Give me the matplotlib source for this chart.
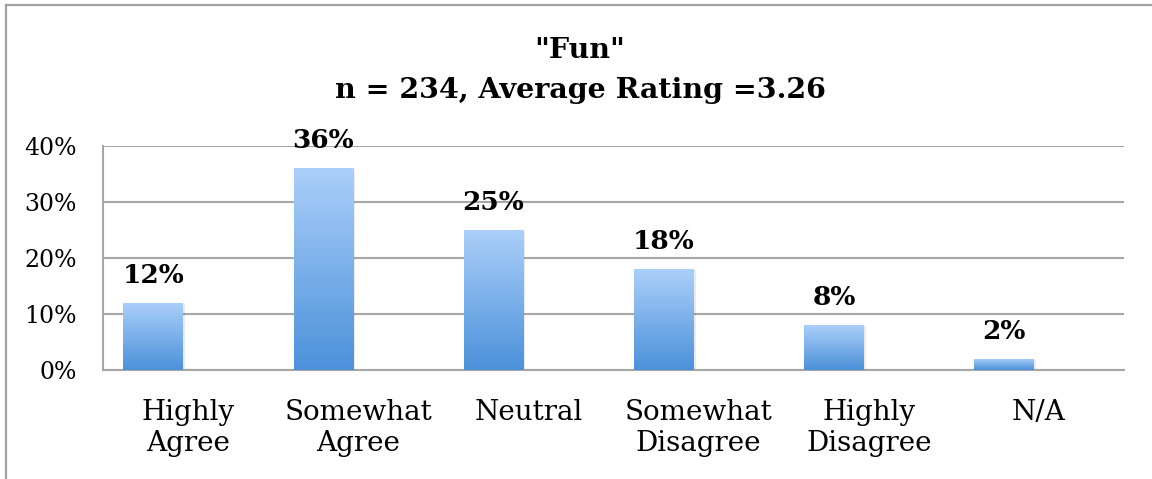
import numpy as np
import matplotlib
matplotlib.use("Agg")
import matplotlib.pyplot as plt
from matplotlib.lines import Line2D
from matplotlib.colors import LinearSegmentedColormap

categories = ["Highly\nAgree", "Somewhat\nAgree", "Neutral", "Somewhat\nDisagree", "Highly\nDisagree", "N/A"]
values = [0.12, 0.36, 0.25, 0.18, 0.08, 0.02]
value_labels = ["12%", "36%", "25%", "18%", "8%", "2%"]
yticks = [0, 0.1, 0.2, 0.3, 0.4]
ytick_labels = ["0%", "10%", "20%", "30%", "40%"]
title_lines = ['"Fun"', "n = 234, Average Rating =3.26"]

W, H = 1152, 479
fig = plt.figure(figsize=(W / 100, H / 100), dpi=100)
ax = fig.add_axes([103 / W, 1 - 370 / H, (1124 - 103) / W, (370 - 146) / H])

serif = "DejaVu Serif"
grid_col = "#a6a6a6"

x = np.arange(len(categories))
offset = -0.205
bars = ax.bar(x + offset, values, width=0.35, color="none", edgecolor="none", zorder=3)

cmap = LinearSegmentedColormap.from_list("g", ["#4b91da", "#abcffa"])
grad = np.linspace(0, 1, 256).reshape(-1, 1)
for b in bars:
    x0, y0 = b.get_x(), b.get_y()
    w, h = b.get_width(), b.get_height()
    # subtle shadow
    ax.bar(x0 + w / 2 + 0.012, h, width=w, bottom=-0.002, color="#000000", alpha=0.08, zorder=2, edgecolor="none")
    im = ax.imshow(grad, cmap=cmap, aspect="auto", extent=[x0, x0 + w, y0, y0 + h],
                   origin="lower", zorder=4, interpolation="bicubic")
    im.set_clip_path(b)

for xi, v, lab in zip(x + offset, values, value_labels):
    ax.annotate(lab, (xi, v), xytext=(0, 20), textcoords="offset points",
                ha="center", va="center", fontsize=19, fontweight="bold",
                family=serif, color="black", zorder=5)

ax.set_xlim(-0.5, len(categories) - 0.5)
ax.set_ylim(0, 0.4)
ax.set_yticks(yticks)
ax.set_yticklabels(ytick_labels, family=serif, fontsize=17)
ax.set_xticks(x)
ax.set_xticklabels(categories, family=serif, fontsize=20, linespacing=1.2, va="top")
ax.tick_params(axis="x", length=0, pad=21)
ax.tick_params(axis="y", length=0, pad=19)
ax.yaxis.grid(True, color=grid_col, linewidth=1.5, zorder=1)
ax.set_axisbelow(True)
for s in ["top", "right"]:
    ax.spines[s].set_visible(False)
for s in ["left", "bottom"]:
    ax.spines[s].set_color(grid_col)
    ax.spines[s].set_linewidth(1.5)

fig.text(580 / W, 1 - 50 / H, title_lines[0], ha="center", va="center",
         fontsize=20.5, fontweight="bold", family=serif)
fig.text(580 / W, 1 - 90 / H, title_lines[1], ha="center", va="center",
         fontsize=20.5, fontweight="bold", family=serif)

# outer chart frame
fig.add_artist(Line2D([6 / W, 6 / W], [0, 1 - 5 / H], color="#a0a0a0", linewidth=1.6, transform=fig.transFigure))
fig.add_artist(Line2D([6 / W, 1.0], [1 - 5 / H, 1 - 5 / H], color="#a0a0a0", linewidth=1.6, transform=fig.transFigure))

fig.savefig("out.png", dpi=100)
